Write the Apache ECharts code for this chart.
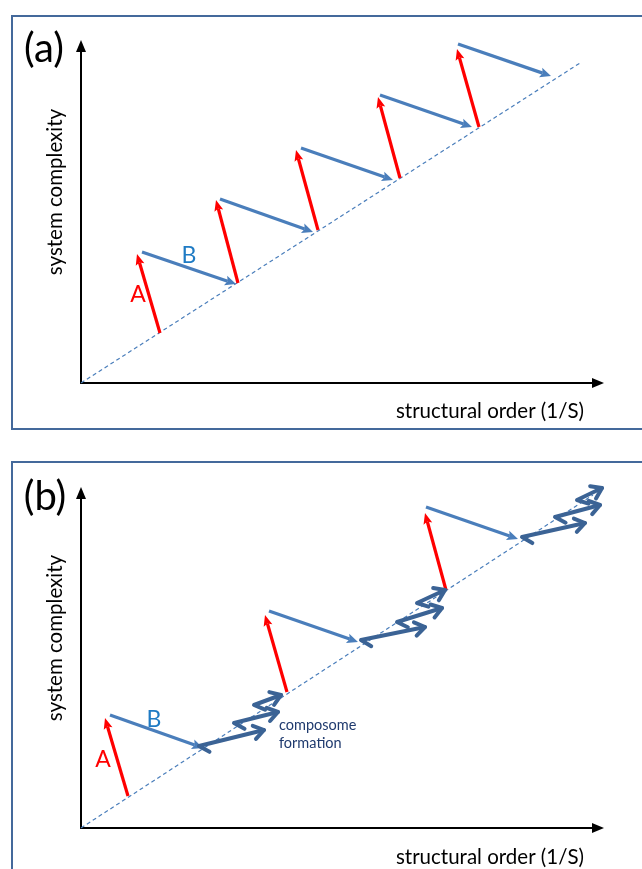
<!DOCTYPE html>
<html><head><meta charset="utf-8">
<script src="https://cdn.jsdelivr.net/npm/echarts@6/dist/echarts.min.js"></script>
<style>html,body{margin:0;padding:0;background:#fff}#chart{width:642px;height:869px}</style>
</head><body><div id="chart"></div>
<script>
// Conceptual units: distance from each panel's origin (x = structural order, y = system complexity)
const xRange = [0, 517];
const yRangeA = [0, 337];
const yRangeB = [0, 335];

// Panel (a)
const diagonalA = [[0, 0], [499, 320]];
// [x0, y0, x1, y1] : start -> arrow tip
const stepAPanelA = [[79, 50, 56, 129], [157, 100, 135, 183], [237, 153, 215, 233], [319, 205, 297, 286], [398, 256, 376, 334]];
const stepBPanelA = [[61, 131, 155, 99], [139, 184, 232, 151], [220, 235, 312, 203], [299, 288, 391, 256], [377, 339, 470, 307]];

// Panel (b)
const diagonalB = [[0, 0], [512, 333]];
const stepAPanelB = [[47, 32, 24, 110], [206, 136, 184, 213], [365, 238, 344, 315]];
const stepBPanelB = [[29, 113, 122, 80], [188, 217, 277, 186], [345, 321, 437, 289]];
// composome formation zig-zag strokes: [x0, y0, x1, y1]
const composomePanelB = [
  [118, 82, 183, 98], [153, 105, 197, 116], [173, 123, 200, 133],
  [280, 188, 344, 201], [316, 206, 361, 220], [336, 225, 364, 238],
  [441, 291, 504, 305], [474, 311, 519, 323], [496, 328, 521, 340]
];

const RED = '#ff0000', BLUE = '#4a7ebb', DARKBLUE = '#3b6395', FRAME = '#44699b';
const FONT = 'Lato';

function arrowRenderer(color, lw, headLen, headW) {
  return function (params, api) {
    const p0 = api.coord([api.value(0), api.value(1)]);
    const p1 = api.coord([api.value(2), api.value(3)]);
    const dx = p1[0] - p0[0], dy = p1[1] - p0[1];
    const L = Math.hypot(dx, dy) || 1;
    const ux = dx / L, uy = dy / L, nx = -uy, ny = ux;
    const bx = p1[0] - ux * headLen, by = p1[1] - uy * headLen;
    const mx = p1[0] - ux * headLen * 0.8, my = p1[1] - uy * headLen * 0.8;
    return {
      type: 'group', children: [
        { type: 'line', shape: { x1: p0[0], y1: p0[1], x2: mx, y2: my }, style: { stroke: color, lineWidth: lw } },
        { type: 'polygon', shape: { points: [[p1[0], p1[1]], [bx + nx * headW / 2, by + ny * headW / 2], [mx, my], [bx - nx * headW / 2, by - ny * headW / 2]] }, style: { fill: color } }
      ]
    };
  };
}
function rot(x, y, a) { const c = Math.cos(a), s = Math.sin(a); return [x * c - y * s, x * s + y * c]; }
function squiggleRenderer(color, lw) {
  return function (params, api) {
    const p0 = api.coord([api.value(0), api.value(1)]);
    const p1 = api.coord([api.value(2), api.value(3)]);
    const dx = p1[0] - p0[0], dy = p1[1] - p0[1];
    const L = Math.hypot(dx, dy) || 1;
    const ux = dx / L, uy = dy / L;
    const h = rot(ux, uy, 0.75);
    const hook = [p0[0] + h[0] * 12, p0[1] + h[1] * 12];
    const a1 = rot(-ux, -uy, 0.6), a2 = rot(-ux, -uy, -0.6);
    const st = { stroke: color, lineWidth: lw, fill: null, lineJoin: 'round', lineCap: 'round' };
    return {
      type: 'group', children: [
        { type: 'polyline', shape: { points: [hook, p0, p1] }, style: st },
        { type: 'polyline', shape: { points: [[p1[0] + a1[0] * 12, p1[1] + a1[1] * 12], p1, [p1[0] + a2[0] * 12, p1[1] + a2[1] * 12]] }, style: st }
      ]
    };
  };
}

function axisCommon(extra) {
  return Object.assign({
    type: 'value',
    axisLine: { show: true, onZero: false, lineStyle: { color: '#000', width: 2 }, symbol: ['none', 'triangle'], symbolSize: [10, 12] },
    axisTick: { show: false }, axisLabel: { show: false }, splitLine: { show: false }
  }, extra);
}

function text(t, x, y, size, color, opts) {
  return Object.assign({
    type: 'text', x: x, y: y,
    style: Object.assign({ text: t, fontSize: size, fontFamily: FONT, fill: color, align: 'center', verticalAlign: 'middle' }, (opts && opts.style) || {})
  }, (opts && opts.el) || {});
}

const chart = echarts.init(document.getElementById('chart'), null, { renderer: 'canvas' });
chart.setOption({
  animation: false,
  backgroundColor: '#fff',
  grid: [
    { left: 81, top: 46, width: 517, height: 337 },
    { left: 81, top: 493, width: 517, height: 335 }
  ],
  xAxis: [
    axisCommon({ gridIndex: 0, min: xRange[0], max: xRange[1] }),
    axisCommon({ gridIndex: 1, min: xRange[0], max: xRange[1] })
  ],
  yAxis: [
    axisCommon({ gridIndex: 0, min: yRangeA[0], max: yRangeA[1] }),
    axisCommon({ gridIndex: 1, min: yRangeB[0], max: yRangeB[1] })
  ],
  series: [
    { type: 'line', xAxisIndex: 0, yAxisIndex: 0, data: diagonalA, showSymbol: false, silent: true, lineStyle: { color: BLUE, width: 1.2, type: [4, 3] }, z: 1 },
    { type: 'custom', xAxisIndex: 0, yAxisIndex: 0, data: stepAPanelA, renderItem: arrowRenderer(RED, 3.2, 11, 9), z: 2 },
    { type: 'custom', xAxisIndex: 0, yAxisIndex: 0, data: stepBPanelA, renderItem: arrowRenderer(BLUE, 3.2, 11, 10), z: 3 },
    { type: 'line', xAxisIndex: 1, yAxisIndex: 1, data: diagonalB, showSymbol: false, silent: true, lineStyle: { color: BLUE, width: 1.2, type: [4, 3] }, z: 1 },
    { type: 'custom', xAxisIndex: 1, yAxisIndex: 1, data: stepAPanelB, renderItem: arrowRenderer(RED, 3.2, 11, 9), z: 2 },
    { type: 'custom', xAxisIndex: 1, yAxisIndex: 1, data: stepBPanelB, renderItem: arrowRenderer(BLUE, 3.2, 11, 10), z: 3 },
    { type: 'custom', xAxisIndex: 1, yAxisIndex: 1, data: composomePanelB, renderItem: squiggleRenderer(DARKBLUE, 4), z: 4 }
  ],
  graphic: [
    { type: 'rect', shape: { x: 12, y: 16, width: 660, height: 413 }, style: { fill: null, stroke: FRAME, lineWidth: 2 }, z: -1 },
    { type: 'rect', shape: { x: 12, y: 462, width: 660, height: 440 }, style: { fill: null, stroke: FRAME, lineWidth: 2 }, z: -1 },
    text('(a)', 44, 49, 40, '#000'),
    text('system complexity', 55, 192, 20.5, '#000', { el: { rotation: Math.PI / 2 } }),
    text('structural order (1/S)', 490, 411, 20.5, '#000'),
    text('A', 138, 295, 23, RED),
    text('B', 189, 256, 23, '#1f7bc4'),
    text('(b)', 45, 497, 40, '#000'),
    text('system complexity', 55, 638, 20.5, '#000', { el: { rotation: Math.PI / 2 } }),
    text('structural order (1/S)', 490, 857, 20.5, '#000'),
    text('A', 103, 760, 23, RED),
    text('B', 154, 720, 23, '#1f7bc4'),
    text('composome', 279, 725, 14.5, '#1f3a6e', { style: { align: 'left' } }),
    text('formation', 279, 743, 14.5, '#1f3a6e', { style: { align: 'left' } })
  ]
});
</script></body></html>
